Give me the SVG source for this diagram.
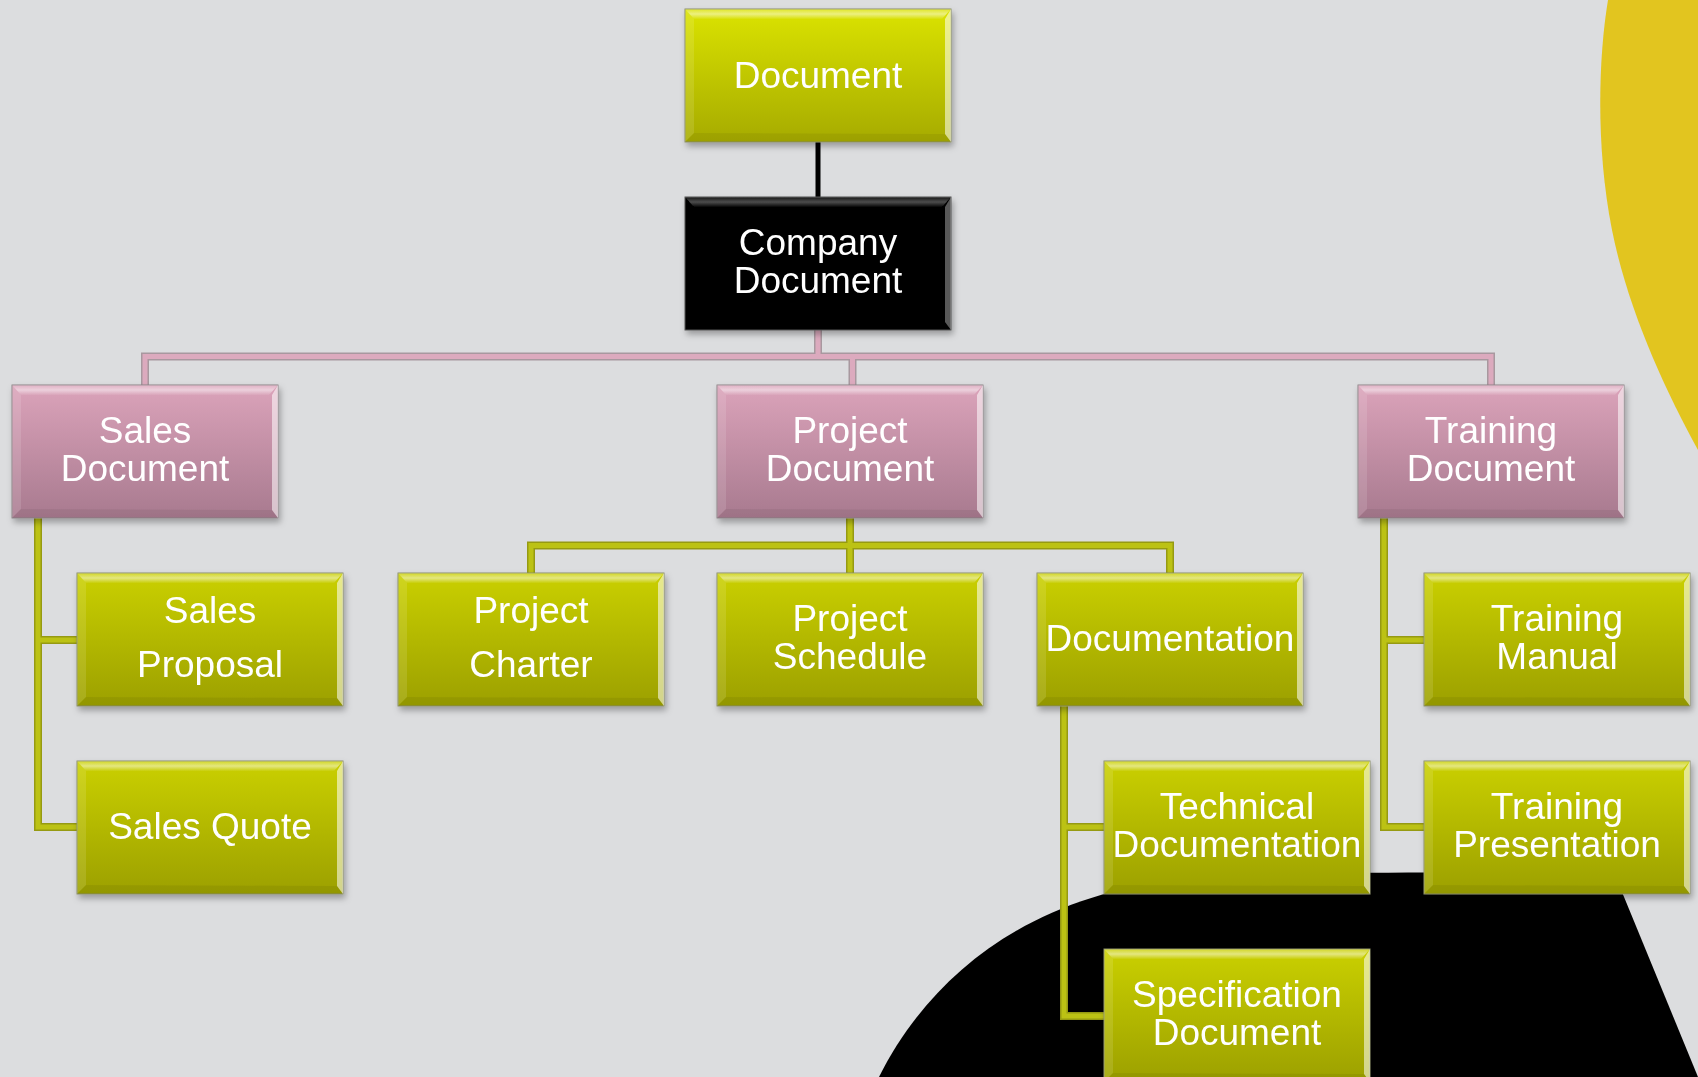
<svg xmlns="http://www.w3.org/2000/svg" xmlns:xlink="http://www.w3.org/1999/xlink" width="1698" height="1077" viewBox="0 0 1698 1077">
<defs>
<style>
.t{font-family:"Liberation Sans",Arial,sans-serif;font-size:37px;fill:#ffffff;text-anchor:middle}
.pk1{fill:none;stroke:#a8989f;stroke-width:8}
.pk2{fill:none;stroke:#dcaabe;stroke-width:5}
.ol1{fill:none;stroke:#969a12;stroke-width:8}
.ol2{fill:none;stroke:#bcc214;stroke-width:5}
.bk{fill:none;stroke:#000000;stroke-width:5}
</style>
<linearGradient id="gO" x1="0" y1="0" x2="0" y2="1">
<stop offset="0" stop-color="#cad000"/><stop offset="1" stop-color="#9ca000"/>
</linearGradient>
<linearGradient id="gO2" x1="0" y1="0" x2="0" y2="1">
<stop offset="0" stop-color="#dbe300"/><stop offset="1" stop-color="#a6ab00"/>
</linearGradient>
<linearGradient id="gP" x1="0" y1="0" x2="0" y2="1">
<stop offset="0" stop-color="#dba3ba"/><stop offset="1" stop-color="#a87a8f"/>
</linearGradient>
<linearGradient id="gTop" x1="0" y1="0" x2="0" y2="1">
<stop offset="0" stop-color="#ffffff" stop-opacity="0.15"/><stop offset="0.5" stop-color="#ffffff" stop-opacity="0.5"/><stop offset="1" stop-color="#ffffff" stop-opacity="0.05"/>
</linearGradient>
<filter id="sh" x="-10%" y="-10%" width="125%" height="130%">
<feDropShadow dx="2" dy="4" stdDeviation="3" flood-color="#000" flood-opacity="0.3"/>
</filter>
<g id="bevel">
<polygon points="0,0 266,0 257,10 9,10" fill="url(#gTop)"/>
<polygon points="0,0 9,10 9,124 0,133" fill="#ffffff" opacity="0.12"/>
<polygon points="266,0 266,133 260,125 260,10" fill="#ffffff" opacity="0.55"/>
<polygon points="0,133 9,124 260,125 266,133" fill="#000000" opacity="0.06"/>
</g>
<g id="boxO"><rect width="266" height="133" fill="url(#gO)" stroke="#8c8f6a" stroke-width="1"/><use href="#bevel"/></g>
<g id="boxO2"><rect width="266" height="133" fill="url(#gO2)" stroke="#8c8f6a" stroke-width="1"/><use href="#bevel"/></g>
<g id="boxP"><rect width="266" height="133" fill="url(#gP)" stroke="#8e8488" stroke-width="1"/><use href="#bevel"/></g>
<g id="boxK"><rect width="266" height="133" fill="#000000" stroke="#555" stroke-width="1"/>
<polygon points="0,0 266,0 257,10 9,10" fill="url(#gTop)" opacity="0.6"/>
<polygon points="266,0 266,133 260,125 260,10" fill="#ffffff" opacity="0.35"/></g>
</defs>
<rect x="0" y="0" width="1698" height="1077" fill="#dcdddf"/>
<path d="M1608 0 C1598 60 1596 150 1612 230 C1628 310 1665 390 1698 450 L1698 0 Z" fill="#e2c51f"/>
<path d="M879 1077 C930 975 1030 895 1180 880 C1300 870 1500 872 1615 875 L1698 1077 Z" fill="#000000"/>
<g id="connectors">
<path class="bk" d="M818 142 V197"/>
<path class="pk1" d="M818 330 V356.5 M145 385 V356.5 H1491 V385 M852.5 356.5 V385"/>
<path class="pk2" d="M818 330 V356.5 M145 385 V356.5 H1491 V385 M852.5 356.5 V385"/>
<path class="ol1" d="M38 518 V827 H77 M38 640 H77 M850 518 V545.5 M531 573 V545.5 H1170 V573 M850 545.5 V573 M1064 706 V1016 H1104 M1064 827 H1104 M1384 518 V827 H1424 M1384 640 H1424"/>
<path class="ol2" d="M38 518 V827 H77 M38 640 H77 M850 518 V545.5 M531 573 V545.5 H1170 V573 M850 545.5 V573 M1064 706 V1016 H1104 M1064 827 H1104 M1384 518 V827 H1424 M1384 640 H1424"/>
</g>
<g id="n-document" filter="url(#sh)"><use href="#boxO2" x="685" y="9"/><text class="t" x="818" y="88">Document</text></g>
<g id="n-company" filter="url(#sh)"><use href="#boxK" x="685" y="197"/><text class="t" x="818" y="255">Company</text><text class="t" x="818" y="293">Document</text></g>
<g id="n-sales" filter="url(#sh)"><use href="#boxP" x="12" y="385"/><text class="t" x="145" y="443">Sales</text><text class="t" x="145" y="481">Document</text></g>
<g id="n-project" filter="url(#sh)"><use href="#boxP" x="717" y="385"/><text class="t" x="850" y="443">Project</text><text class="t" x="850" y="481">Document</text></g>
<g id="n-training" filter="url(#sh)"><use href="#boxP" x="1358" y="385"/><text class="t" x="1491" y="443">Training</text><text class="t" x="1491" y="481">Document</text></g>
<g id="n-salesproposal" filter="url(#sh)"><use href="#boxO" x="77" y="573"/><text class="t" x="210" y="623">Sales</text><text class="t" x="210" y="677">Proposal</text></g>
<g id="n-projectcharter" filter="url(#sh)"><use href="#boxO" x="398" y="573"/><text class="t" x="531" y="623">Project</text><text class="t" x="531" y="677">Charter</text></g>
<g id="n-projectschedule" filter="url(#sh)"><use href="#boxO" x="717" y="573"/><text class="t" x="850" y="631">Project</text><text class="t" x="850" y="669">Schedule</text></g>
<g id="n-documentation" filter="url(#sh)"><use href="#boxO" x="1037" y="573"/><text class="t" x="1170" y="651">Documentation</text></g>
<g id="n-trainingmanual" filter="url(#sh)"><use href="#boxO" x="1424" y="573"/><text class="t" x="1557" y="631">Training</text><text class="t" x="1557" y="669">Manual</text></g>
<g id="n-salesquote" filter="url(#sh)"><use href="#boxO" x="77" y="761"/><text class="t" x="210" y="839">Sales Quote</text></g>
<g id="n-technical" filter="url(#sh)"><use href="#boxO" x="1104" y="761"/><text class="t" x="1237" y="819">Technical</text><text class="t" x="1237" y="857">Documentation</text></g>
<g id="n-trainingpres" filter="url(#sh)"><use href="#boxO" x="1424" y="761"/><text class="t" x="1557" y="819">Training</text><text class="t" x="1557" y="857">Presentation</text></g>
<g id="n-specification" filter="url(#sh)"><use href="#boxO" x="1104" y="949"/><text class="t" x="1237" y="1007">Specification</text><text class="t" x="1237" y="1045">Document</text></g>
</svg>
